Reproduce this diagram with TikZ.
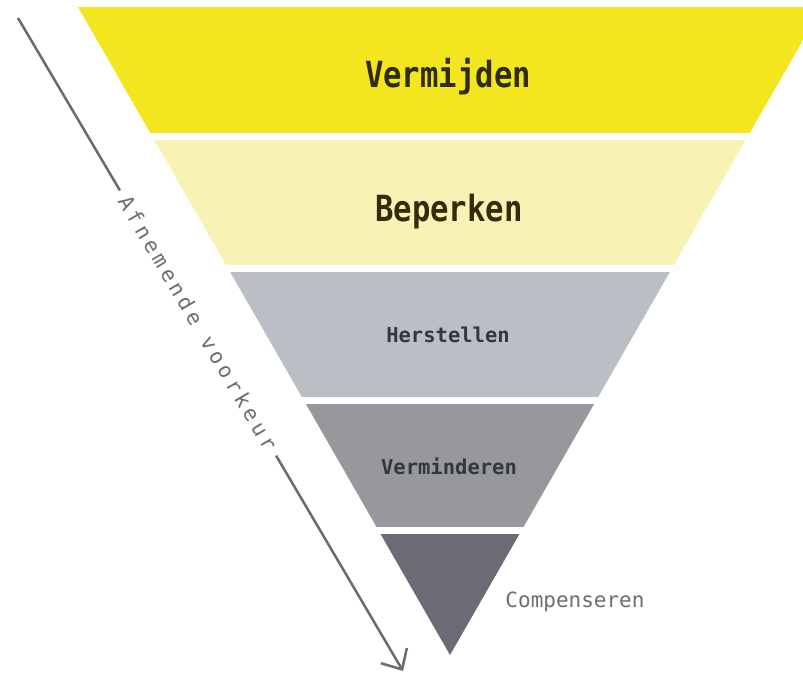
\documentclass[tikz,border=0pt]{standalone}
\usepackage{fontspec}
\usetikzlibrary{arrows.meta}
\newfontfamily\bigmono[FakeStretch=0.85]{DejaVu Sans Mono}
\newfontfamily\smallmono{DejaVu Sans Mono}
\newfontfamily\spacedmono[LetterSpace=19]{DejaVu Sans Mono}
\definecolor{bandA}{RGB}{243,229,30}
\definecolor{bandB}{RGB}{248,242,180}
\definecolor{bandC}{RGB}{186,191,197}
\definecolor{bandD}{RGB}{150,152,156}
\definecolor{bandE}{RGB}{106,107,117}
\definecolor{inkY}{RGB}{48,44,12}
\definecolor{inkG}{RGB}{52,55,62}
\definecolor{inkL}{RGB}{108,108,116}
\definecolor{arrowc}{RGB}{105,106,114}
\tikzset{
  biglab/.style={anchor=base, inner sep=0pt, text=inkY, font=\bigmono\bfseries\fontsize{36}{40}\selectfont},
  smalllab/.style={anchor=base, inner sep=0pt, text=inkG, font=\smallmono\bfseries\fontsize{20.5}{24}\selectfont},
  sidelab/.style={anchor=base, inner sep=0pt, text=inkL, font=\smallmono\fontsize{21}{24}\selectfont},
  axislab/.style={inner xsep=8pt, inner ysep=0pt, text=inkL, font=\spacedmono\fontsize{21}{24}\selectfont},
  axisline/.style={draw=arrowc, line width=2.5pt}
}
\begin{document}
\begin{tikzpicture}[x=1pt,y=-1pt]
\useasboundingbox (0,0) rectangle (803,677);
\fill[white] (0,0) rectangle (803,677);
\begin{scope}
  \clip (0,0) rectangle (803,677);
  \clip (78,7) -- (822,7) -- (450,655) -- cycle;
  \fill[bandA] (0,7) rectangle (850,133);
  \fill[bandB] (0,140) rectangle (850,265);
  \fill[bandC] (0,272) rectangle (850,397);
  \fill[bandD] (0,404) rectangle (850,527);
  \fill[bandE] (0,534) rectangle (850,660);
\end{scope}
\node[biglab] (vermijden) at (448,88) {Vermijden};
\node[biglab] (beperken) at (449,221) {Beperken};
\node[smalllab] (herstellen) at (448,342) {Herstellen};
\node[smalllab] (verminderen) at (449,474) {Verminderen};
\node[sidelab] (compenseren) at (575,607) {Compenseren};
\coordinate (a0) at (18,18);
\coordinate (a1) at (403,671);
\node[axislab, rotate=-59.5] (axis) at (198,323) {Afnemende voorkeur};
\draw[axisline] (a0) -- (axis.west);
\draw[axisline, -{Straight Barb[length=16pt,width=30pt]}] (axis.east) -- (a1);
\end{tikzpicture}
\end{document}
